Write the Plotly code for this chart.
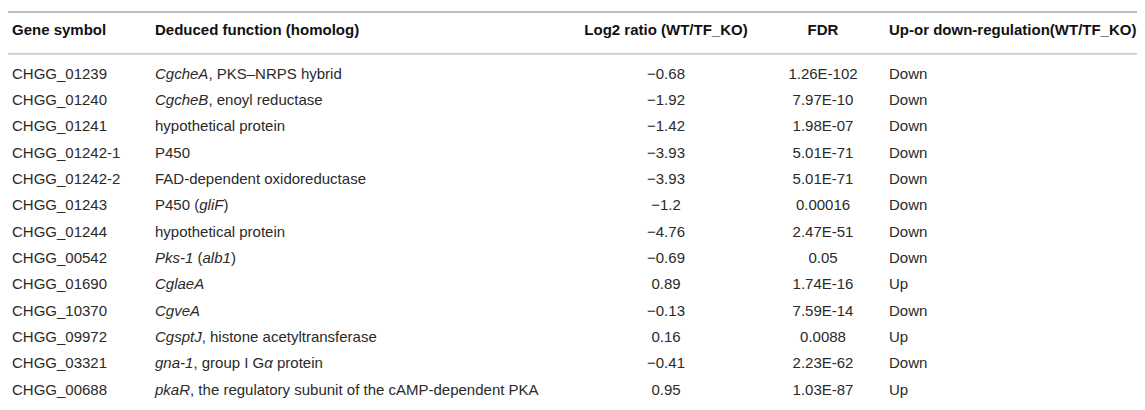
import plotly.graph_objects as go

# table contents
genes = ['CHGG_01239', 'CHGG_01240', 'CHGG_01241', 'CHGG_01242-1', 'CHGG_01242-2',
         'CHGG_01243', 'CHGG_01244', 'CHGG_00542', 'CHGG_01690', 'CHGG_10370',
         'CHGG_09972', 'CHGG_03321', 'CHGG_00688']
functions = ['<i>CgcheA</i>, PKS–NRPS hybrid',
             '<i>CgcheB</i>, enoyl reductase',
             'hypothetical protein',
             'P450',
             'FAD-dependent oxidoreductase',
             'P450 (<i>gliF</i>)',
             'hypothetical protein',
             '<i>Pks-1</i> (<i>alb1</i>)',
             '<i>CglaeA</i>',
             '<i>CgveA</i>',
             '<i>CgsptJ</i>, histone acetyltransferase',
             '<i>gna-1</i>, group I G<i>α</i> protein',
             '<i>pkaR</i>, the regulatory subunit of the cAMP-dependent PKA']
log2_ratio = [-0.68, -1.92, -1.42, -3.93, -3.93, -1.2, -4.76, -0.69, 0.89, -0.13, 0.16, -0.41, 0.95]
fdr = ['1.26E-102', '7.97E-10', '1.98E-07', '5.01E-71', '5.01E-71', '0.00016', '2.47E-51',
       '0.05', '1.74E-16', '7.59E-14', '0.0088', '2.23E-62', '1.03E-87']
regulation = ['Down', 'Down', 'Down', 'Down', 'Down', 'Down', 'Down', 'Down', 'Up', 'Down',
              'Up', 'Down', 'Up']
headers = ['Gene symbol', 'Deduced function (homolog)', 'Log2 ratio (WT/TF_KO)', 'FDR',
           'Up-or down-regulation(WT/TF_KO)']

# layout (pixels for x, row units for y)
W, H = 1145, 410
row_top_px, row_pitch = 67, 26.33
col_x = [4, 147, 658, 815, 881]
col_pos = ['middle right', 'middle right', 'middle center', 'middle center', 'middle right']
header_y = -1.67
line_y = [-2.39, -0.80, 12.87]
line_w = [2, 1.3, 2.5]

rows = list(range(len(genes)))
log2_txt = [str(v).replace('-', '\u2212') for v in log2_ratio]
columns = [genes, functions, log2_txt, fdr, regulation]

body_font = dict(family='Arial, Liberation Sans, sans-serif', size=15, color='#2a2a2a')
head_font = dict(family='Arial, Liberation Sans, sans-serif', size=15, color='#111111')

fig = go.Figure()
for i, col in enumerate(columns):
    # body cells
    fig.add_trace(go.Scatter(
        x=[col_x[i]] * len(col), y=rows, mode='text', text=col,
        textposition=col_pos[i], textfont=body_font, marker=dict(size=0),
        hoverinfo='skip', showlegend=False))
    # header cell
    fig.add_trace(go.Scatter(
        x=[col_x[i]], y=[header_y], mode='text', text=['<b>' + headers[i] + '</b>'],
        textposition=col_pos[i], textfont=head_font, marker=dict(size=0),
        hoverinfo='skip', showlegend=False))

# horizontal rules
for y, w in zip(line_y, line_w):
    fig.add_shape(type='line', x0=0, x1=W - 3, y0=y, y1=y,
                  line=dict(color='#bdbdbd', width=w))

fig.update_layout(
    width=W, height=H,
    margin=dict(l=0, r=0, t=0, b=0),
    plot_bgcolor='white', paper_bgcolor='white',
    xaxis=dict(range=[0, W], visible=False, fixedrange=True),
    yaxis=dict(range=[(H - row_top_px) / row_pitch, -row_top_px / row_pitch],
               visible=False, fixedrange=True),
)

fig.write_html('out.html')
